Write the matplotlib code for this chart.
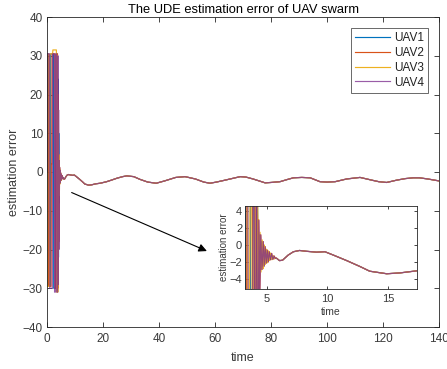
import matplotlib
matplotlib.use("Agg")
import matplotlib.pyplot as plt

plt.rcParams['font.family'] = ['Liberation Sans', 'DejaVu Sans']

# ---------------- data ----------------
series_names = ["UAV1", "UAV2", "UAV3", "UAV4"]
series_colors = ["#0072BD", "#D95319", "#EDB120", "#7E2F8E"]

# transient (chattering) part of each estimation error
t_tr1 = [0.0, 0.1, 0.35, 0.45, 1.2, 1.3, 2.3, 2.4, 3.2, 3.3, 3.6, 3.7, 3.95, 4.1, 4.2, 4.32,
         4.42, 4.5, 4.6, 4.7, 4.78, 4.86, 4.95, 5.03, 5.12, 5.2, 5.3, 5.4, 5.5, 5.6, 5.7]
v_tr1 = [0.0, 30.5, 30.5, -29.5, -29.5, 30.5, 30.5, -30, -30, 30.5, 30.5, -30.5, 24, -22,
         10, -8, 1.2, -2.9, 0.4, -2.5, -0.2, -2.15, -0.6, -2.0, -0.8, -1.75, -1.0, -1.7, -1.3, -1.6, -1.55]

t_tr2 = [0.0, 0.15, 0.4, 0.5, 1.45, 1.55, 1.7, 1.8, 2.8, 2.9, 3.3, 3.4, 3.75, 3.9, 4.05, 4.2,
         4.33, 4.42, 4.5, 4.6, 4.7, 4.78, 4.86, 4.95, 5.03, 5.12, 5.2, 5.3, 5.4, 5.5, 5.6, 5.7]
v_tr2 = [0.0, 30.5, 30.5, -29.5, -29.5, 2.0, 2.0, 30.5, 30.5, -30, -30, 30.5, 30.5, -30,
         20, -18, 3, -6, 1.2, -2.9, 0.4, -2.5, -0.2, -2.15, -0.6, -2.0, -0.8, -1.75, -1.0, -1.7, -1.3, -1.55]

t_tr3 = [0.0, 0.05, 0.9, 1.0, 2.0, 2.1, 3.35, 3.5, 3.7, 3.85, 4.0, 4.12, 4.25, 4.35,
         4.44, 4.52, 4.62, 4.72, 4.8, 4.88, 4.97, 5.05, 5.14, 5.22, 5.32, 5.42, 5.52, 5.62, 5.7]
v_tr3 = [0.0, -29.5, -29.5, 30.5, 30.5, 31.5, 31.5, -31, 30, -31, 16, -20, 4.5, -6,
         1.5, -3.2, 0.6, -2.8, 0.0, -2.3, -0.5, -2.1, -0.7, -1.85, -0.95, -1.75, -1.25, -1.65, -1.55]

t_tr4 = [0.0, 0.08, 0.9, 1.0, 1.9, 2.0, 2.6, 2.7, 3.0, 3.1, 3.4, 3.5, 3.8, 3.9, 4.05, 4.15,
         4.25, 4.35, 4.42, 4.5, 4.6, 4.7, 4.78, 4.86, 4.95, 5.03, 5.12, 5.2, 5.3, 5.4, 5.5, 5.6, 5.7]
v_tr4 = [0.0, 30.5, 30.5, -30, -30, 30.5, 30.5, -31, -31, 30.5, 30.5, -31, -31, 30, -29, 16,
         -20, 2.9, -6, 1.2, -2.9, 0.4, -2.5, -0.2, -2.15, -0.6, -2.0, -0.8, -1.75, -1.0, -1.7, -1.3, -1.6]

# steady part (all four estimates coincide)
t_steady = [5.8, 6.05, 6.3, 6.76, 7.2, 7.7, 8.3, 9.1, 9.8, 10.5, 11.6, 12.7, 13.5, 14.9, 16.0,
            17.4, 19.0, 21.3, 23.0, 25.0, 27.0, 28.5, 31.0, 33.2, 36.0, 39.0, 42.0, 46.0, 49.3,
            53.0, 56.0, 58.2, 60.5, 63.0, 66.0, 69.0, 71.0, 73.6, 77.9, 80.0, 83.2, 86.0, 88.0,
            91.0, 94.0, 97.5, 100.0, 102.9, 107.0, 111.8, 116.0, 118.5, 121.3, 124.9, 128.0,
            130.8, 133.0, 136.0, 140.0]
v_steady = [-1.56, -1.85, -1.8, -1.2, -0.8, -0.65, -0.75, -0.85, -0.8, -1.2, -1.85, -2.55, -3.1,
            -3.4, -3.3, -3.05, -2.9, -2.5, -2.1, -1.6, -1.2, -1.0, -1.2, -1.9, -2.6, -2.9, -2.3,
            -1.4, -1.2, -1.8, -2.6, -2.9, -2.6, -2.2, -1.7, -1.2, -1.3, -1.8, -2.8, -2.7, -2.5,
            -1.9, -1.5, -1.4, -1.5, -2.5, -2.6, -2.5, -1.8, -1.4, -2.1, -2.5, -2.7, -2.1, -1.7,
            -1.5, -1.5, -1.8, -2.3]

transients = [(t_tr1, v_tr1), (t_tr2, v_tr2), (t_tr3, v_tr3), (t_tr4, v_tr4)]
series_alpha = [1.0, 1.0, 1.0, 0.78]

x_ticks = [0, 20, 40, 60, 80, 100, 120, 140]
y_ticks = [-40, -30, -20, -10, 0, 10, 20, 30, 40]
inset_x_ticks = [5, 10, 15]
inset_y_ticks = [-4, -2, 0, 2, 4]

# ---------------- figure ----------------
W, H = 447, 369
fig = plt.figure(figsize=(W / 100, H / 100), dpi=100)
AX_COL = "#262626"
TXT_COL = "#3a3a3a"

ax = fig.add_axes([47 / W, 1 - 327 / H, (439 - 47) / W, (327 - 17) / H])

def style(a, fs, pad):
    for s in a.spines.values():
        s.set_color(AX_COL)
        s.set_linewidth(0.6)
    a.tick_params(direction="in", top=True, right=True, length=3.5, width=0.6,
                  colors=AX_COL, labelcolor=TXT_COL, labelsize=fs, pad=pad)

for (tt, vv), name, col, al in zip(transients, series_names, series_colors, series_alpha):
    ax.plot(tt + t_steady, vv + v_steady, color=col, lw=0.85, alpha=al, label=name)

ax.set_xlim(0, 140)
ax.set_ylim(-40, 40)
ax.set_xticks(x_ticks)
ax.set_yticks(y_ticks)
style(ax, 8.5, 3)
ax.tick_params(axis="x", pad=4.5)
ax.set_xlabel("time", fontsize=9, color=TXT_COL, labelpad=5)
ax.set_ylabel("estimation error", fontsize=9, color=TXT_COL, labelpad=2)
ax.set_title("The UDE estimation error of UAV swarm", fontsize=9.3, color="black", pad=3)

leg = ax.legend(loc="upper right", fontsize=8.5, frameon=True, fancybox=False,
                edgecolor=AX_COL, handlelength=3.0, handletextpad=0.35,
                labelspacing=0.25, borderpad=0.35, borderaxespad=0.9)
leg.get_frame().set_linewidth(0.6)
for txt in leg.get_texts():
    txt.set_color("#222222")

ax.annotate("", xy=(57.1, -20.4), xytext=(8.8, -5.3),
            arrowprops=dict(arrowstyle="-|>", color="black", lw=0.8,
                            mutation_scale=12, shrinkA=0, shrinkB=0))

# inset
axi = fig.add_axes([245 / W, 1 - 289 / H, (417 - 245) / W, (289 - 206) / H])
for (tt, vv), col, al in zip(transients, series_colors, series_alpha):
    axi.plot(tt + t_steady, vv + v_steady, color=col, lw=0.85, alpha=al)
axi.set_xlim(3.2, 17.4)
axi.set_ylim(-5.2, 4.6)
axi.set_xticks(inset_x_ticks)
axi.set_yticks(inset_y_ticks)
style(axi, 8, 2)
axi.tick_params(length=2.5)
axi.tick_params(axis="x", pad=3.5)
axi.set_xlabel("time", fontsize=7.5, color=TXT_COL, labelpad=2.5)
axi.set_ylabel("estimation error", fontsize=7, color=TXT_COL, labelpad=0)

fig.savefig("out.png", dpi=100)
